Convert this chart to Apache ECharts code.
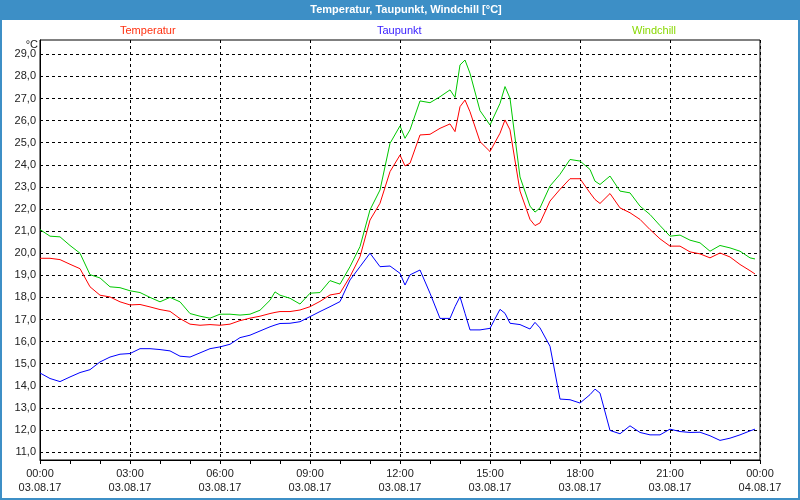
<!DOCTYPE html>
<html>
<head>
<meta charset="utf-8">
<script src="https://cdn.jsdelivr.net/npm/echarts@6/dist/echarts.min.js"></script>
<style>
html,body{margin:0;padding:0;background:#fff;}
#c{width:800px;height:500px;}
</style>
</head>
<body>
<div id="c"></div>
<script>
// Time stamps (03.08.17, HH:MM); last point at 23:50
const times = [
 '00:00','00:20','00:40','01:00','01:20','01:40','02:00','02:20','02:40',
 '03:00','03:20','03:40','04:00','04:20','04:40','05:00','05:20','05:40',
 '06:00','06:20','06:40','07:00','07:20','07:40','07:50',
 '08:00','08:20','08:40','09:00','09:20','09:40','10:00','10:20','10:40',
 '11:00','11:20','11:40','12:00','12:10','12:20','12:40',
 '13:00','13:20','13:40','13:50','14:00','14:10','14:20','14:40',
 '15:00','15:20','15:30','15:40','16:00','16:20','16:30','16:40',
 '17:00','17:20','17:40','18:00','18:20','18:30','18:40',
 '19:00','19:20','19:40','20:00','20:20','20:40','21:00','21:20','21:40',
 '22:00','22:20','22:40','23:00','23:20','23:40','23:50'
];
const temperatur = [
 19.77,19.77,19.71, 19.5,19.3,18.48, 18.1,18.02,17.8,
 17.66,17.68,17.57, 17.45,17.37,17.04, 16.79,16.74,16.77,
 16.74,16.79,16.95, 17.06,17.15,17.27,17.32,
 17.36,17.36,17.43, 17.58,17.82,18.11, 18.19,18.94,19.84,
 21.5,22.26,23.69, 24.44,23.95,24.07,25.35,
 25.38,25.65,25.85,25.5, 26.63,26.93,26.4,25.05,
 24.6,25.43,26.03,25.58, 22.81,21.53,21.25,21.37,
 22.36,22.89,23.37, 23.37,22.73,22.43,22.25,
 22.7,22.05,21.83, 21.53,21.07,20.65, 20.32,20.32,20.06,
 19.97,19.79,20.01, 19.83,19.49,19.21,19.06
];
const taupunkt = [
 14.58,14.33,14.19, 14.4,14.6,14.73, 15.08,15.3,15.43,
 15.46,15.68,15.68, 15.64,15.58,15.34, 15.3,15.49,15.68,
 15.76,15.88,16.18, 16.29,16.48,16.67,16.75,
 16.82,16.83,16.9, 17.13,17.36,17.58, 17.81,18.79,19.39,
 20.0,19.39,19.42, 19.09,18.56,19.02,19.24,
 18.19,17.05,17.05,17.58, 18.03,17.28,16.53,16.53,
 16.6,17.46,17.28,16.83, 16.77,16.57,16.87,16.62,
 15.79,13.4,13.37, 13.22,13.6,13.85,13.67,
 11.98,11.83,12.19, 11.89,11.78,11.78, 12.04,11.93,11.89,
 11.9,11.74,11.53, 11.63,11.78,11.96,12.04
];
const windchill = [
 21.07,20.77,20.74, 20.35,20.0,19.03, 18.88,18.48,18.44,
 18.3,18.22,18.0, 17.8,18.0,17.8, 17.27,17.15,17.06,
 17.24,17.24,17.2, 17.24,17.42,17.87,18.25,
 18.1,17.96,17.7, 18.19,18.22,18.76, 18.6,19.39,20.3,
 21.96,22.86,24.97, 25.76,25.2,25.58,26.89,
 26.81,27.08,27.39,27.05, 28.52,28.74,28.14,26.45,
 25.8,26.78,27.54,27.01, 23.45,22.13,21.86,22.05,
 23.04,23.57,24.24, 24.17,23.79,23.26,23.11,
 23.49,22.81,22.73, 22.13,21.75,21.25, 20.77,20.82,20.59,
 20.47,20.09,20.35, 20.24,20.09,19.79,19.74
];
const yTicks = [11,12,13,14,15,16,17,18,19,20,21,22,23,24,25,26,27,28,29];
const dayLabels = ['03.08.17','04.08.17'];
const titleText = 'Temperatur, Taupunkt, Windchill [°C]';
const seriesNames = ['Temperatur','Taupunkt','Windchill'];

function toMin(t){ const p=t.split(':'); return (+p[0])*60 + (+p[1]); }
function pairs(vals){ return vals.map((v,i)=>[toMin(times[i]), v]); }
function pad(n){ return (n<10?'0':'')+n; }

const chart = echarts.init(document.getElementById('c'), null, {renderer:'canvas'});
const FONT = 'Liberation Sans';
chart.setOption({
  animation:false,
  backgroundColor:'#ffffff',
  grid:{left:40,right:40,top:40,bottom:40,show:true,borderColor:'#000',borderWidth:1,backgroundColor:'transparent'},
  xAxis:{
    type:'value', min:0, max:1440, interval:180,
    axisLine:{show:true,lineStyle:{color:'#000',width:1}},
    axisTick:{show:true,length:4,lineStyle:{color:'#000'}},
    minorTick:{show:true,splitNumber:3,length:4,lineStyle:{color:'#000'}},
    splitLine:{show:true,lineStyle:{color:'#000',type:[3,3],width:1}},
    axisLabel:{
      showMinLabel:true, showMaxLabel:true, margin:7,
      fontFamily:FONT, fontSize:11, color:'#222', lineHeight:14,
      formatter:function(v){
        const h=Math.floor(v/60)%24, m=v%60;
        return pad(h)+':'+pad(m)+'\n'+(v>=1440?dayLabels[1]:dayLabels[0]);
      }
    }
  },
  yAxis:{
    type:'value', min:10.643, max:29.647,
    axisLine:{show:true,lineStyle:{color:'#000',width:1}},
    axisTick:{show:false,customValues:yTicks},
    splitLine:{show:true,lineStyle:{color:'#000',type:[3,3],width:1}},
    axisLabel:{
      customValues:yTicks, margin:4,
      fontFamily:FONT, fontSize:11, color:'#222',
      formatter:function(v){ return v.toFixed(1).replace('.',','); }
    }
  },
  series:[
    {name:seriesNames[0],type:'line',data:pairs(temperatur),showSymbol:false,lineStyle:{color:'#ff0000',width:1},itemStyle:{color:'#ff0000'},z:3},
    {name:seriesNames[1],type:'line',data:pairs(taupunkt),showSymbol:false,lineStyle:{color:'#0000ff',width:1},itemStyle:{color:'#0000ff'},z:3},
    {name:seriesNames[2],type:'line',data:pairs(windchill),showSymbol:false,lineStyle:{color:'#00c800',width:1},itemStyle:{color:'#00c800'},z:2}
  ],
  graphic:[
    {type:'rect',shape:{x:0,y:0,width:800,height:20},style:{fill:'#3d8fc6'},silent:true,z:10},
    {type:'rect',shape:{x:1,y:1,width:798,height:498},style:{fill:'none',stroke:'#3d8fc6',lineWidth:2},silent:true,z:10},
    {type:'text',x:406,y:10,style:{text:titleText,fill:'#ffffff',font:'bold 11px '+FONT,textAlign:'center',textVerticalAlign:'middle'},z:11},
    {type:'text',x:120,y:31,style:{text:seriesNames[0],fill:'#ff3010',font:'11px '+FONT,textAlign:'left',textVerticalAlign:'middle'},z:11},
    {type:'text',x:377,y:31,style:{text:seriesNames[1],fill:'#3a20ff',font:'11px '+FONT,textAlign:'left',textVerticalAlign:'middle'},z:11},
    {type:'text',x:632,y:31,style:{text:seriesNames[2],fill:'#88d800',font:'11px '+FONT,textAlign:'left',textVerticalAlign:'middle'},z:11},
    {type:'text',x:38,y:45,style:{text:'°C',fill:'#222',font:'11px '+FONT,textAlign:'right',textVerticalAlign:'middle'},z:11}
  ]
});
</script>
</body>
</html>
